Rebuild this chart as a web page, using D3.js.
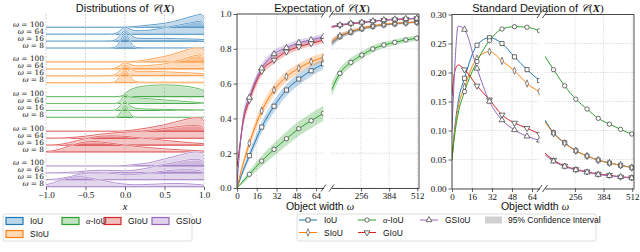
<!DOCTYPE html>
<html>
<head>
<meta charset="utf-8">
<script src="https://cdn.jsdelivr.net/npm/d3@7"></script>
<style>
  body { margin: 0; background: #fff; }
  svg { display: block; }
  text { fill: #111; }
</style>
</head>
<body>
<svg id="fig" width="640" height="252"></svg>
<script>
// ---------- data ----------
const methods = ["IoU", "SIoU", "α-IoU", "GIoU", "GSIoU"];
const colors = ["#1f77b4", "#ff7f0e", "#2ca02c", "#d62728", "#9467bd"];
const ridgeLabels = ["100", "64", "16", "8"];
const distTicks = [-1, -0.5, 0, 0.5, 1];

// sample positions of the densities
const densX = [-1, -0.9, -0.8, -0.7, -0.6, -0.5, -0.4, -0.3, -0.2, -0.15, -0.1, -0.05, 0,
  0.05, 0.1, 0.15, 0.2, 0.3, 0.4, 0.5, 0.6, 0.7, 0.8, 0.9, 0.95, 1];

// densities (arbitrary units) for omega = 100, 64, 16, 8
const densIoU = [
  [0,0,0,0,0,0,0,0,0,0,0,0,0.1,0.3,0.6,1,1.4,2.2,3,4,5.5,7.5,10,12,13,10],
  [0,0,0,0,0,0,0,0,0,0.3,1.5,4.5,7,5.5,4,3.5,3.5,4,5,6.5,8,9.5,11,12.5,13,10],
  [0,0,0,0,0,0,0,0,0.1,0.5,2.5,7,10.5,8,4.5,3,2.7,2.7,2.8,2.8,2.6,2.4,2.2,2,1.8,1.5],
  [0,0,0,0,0,0,0,0,0,0.3,2.5,9,14,9,2.5,0.6,0.3,0.2,0.2,0.2,0.2,0.2,0.2,0.2,0.2,0.2]
];
const densSIoU = [
  [0,0,0,0,0,0,0,0,0,0,0,0,0.1,0.2,0.5,0.8,1.2,2.5,4,5.5,7.5,10,12.5,14,14,11],
  [0,0,0,0,0,0,0,0,0,0.3,1.5,4,6,5,3.5,3,3,3.5,4,5,7,9,11.5,13.5,14,11],
  [0,0,0,0,0,0,0,0,0.1,0.5,2.5,7,10.5,8.5,5.5,4.5,4.5,4.5,4.3,4,3.7,3.3,3,2.6,2.3,2],
  [0,0,0,0,0,0,0,0,0.1,0.4,2.5,8.5,12,8.5,3,1,0.6,0.5,0.5,0.5,0.5,0.5,0.5,0.5,0.5,0.5]
];
const densAlpha = [
  [0,0,0,0,0,0,0,0,0,0,0.1,0.5,3,6,8,9.3,10,11,11.5,11.7,11.5,11,10,8.5,7.5,6],
  [0,0,0,0,0,0,0,0,0,0,0.5,4,9,7,6,5.7,5.4,4.8,4.2,3.6,3,2.4,1.8,1.2,0.9,0.6],
  [0,0,0,0,0,0,0,0,0,0.2,1.5,6,9,6,3,2,1.6,1.4,1.2,1,0.9,0.8,0.7,0.6,0.6,0.5],
  [0,0,0,0,0,0,0,0,0,0,0.6,6,12.5,6,0.6,0.1,0,0,0,0,0,0,0,0,0,0]
];
const densGIoU = [
  [0,0,0,0,0,0,0,0,0,0,0,0.2,0.5,0.8,1.2,1.7,2.3,3.5,5,6.5,8.5,10.5,12.5,13.5,13.5,10],
  [0,0,0.2,0.6,1.2,2,3,4,4.8,5.2,5.5,5.8,6,6.2,6.4,6.6,7,7.8,8.7,9.7,10.8,11.8,12.5,12.5,12,9],
  [0,0.2,1,2.5,4.5,6.5,8,9,9.3,9.3,9.2,9,8.8,8.4,8,7.6,7.2,6.4,5.6,4.8,4,3.3,2.6,2,1.7,1.4],
  [0.5,1.5,3.5,6,8.5,10,10.5,10,9,8.5,8,7.5,7,6.5,6,5.6,5.2,4.5,3.8,3.2,2.7,2.2,1.8,1.4,1.2,1]
];
const densGSIoU = [
  [0,0,0,0,0,0,0,0,0,0,0,0.2,0.5,0.8,1.2,1.6,2,3,5,7,9,11,13,14,13.5,10],
  [0,0,0.2,0.5,1,1.8,2.3,2.5,2.4,2.3,2.2,2.1,2,2.2,2.5,3,3.5,5,7,8.5,10,11.5,13,13.5,13,10],
  [0.2,0.5,1.5,3,5,6.5,7,7,6.5,6.2,5.8,5.4,5,5,5.2,5.5,5.8,6.7,7.8,8.8,9.5,10,10,9.5,9,7],
  [2,4,7,9,10,9.5,8,6.5,5,4.2,3.5,3,2.5,2.2,2,2,2,2.3,2.6,3,3.2,3.2,2.8,2.3,2,1.5]
];
const densities = [densIoU, densSIoU, densAlpha, densGIoU, densGSIoU];

// object widths
const omegaLeft = [0, 2, 5, 10, 20, 30, 40, 50, 60, 70];
const omegaRight = [122, 160, 210, 260, 310, 360, 410, 460, 510, 520];
const markerLeft = [10, 20, 30, 40, 50, 60, 70];
const markerRight = [160, 210, 260, 310, 360, 410, 460, 510];
const ticksLeft = [0, 16, 32, 48, 64];
const ticksRight = [256, 384, 512];

// expectation of C(X)
const expLeft = [
  [0, 0.04, 0.1, 0.186, 0.35, 0.47, 0.563, 0.626, 0.674, 0.713],
  [0, 0.06, 0.14, 0.257, 0.443, 0.563, 0.64, 0.688, 0.726, 0.75],
  [0, 0.015, 0.04, 0.079, 0.155, 0.222, 0.283, 0.341, 0.387, 0.429],
  [0.12, 0.23, 0.38, 0.505, 0.672, 0.736, 0.783, 0.812, 0.831, 0.85],
  [0.02, 0.2, 0.4, 0.52, 0.688, 0.77, 0.806, 0.835, 0.851, 0.87]
];
const expRight = [
  [0.83, 0.87, 0.895, 0.915, 0.929, 0.938, 0.944, 0.949, 0.953, 0.954],
  [0.84, 0.874, 0.898, 0.918, 0.931, 0.94, 0.946, 0.95, 0.954, 0.955],
  [0.563, 0.659, 0.722, 0.764, 0.799, 0.822, 0.837, 0.851, 0.861, 0.863],
  [0.925, 0.935, 0.944, 0.951, 0.958, 0.964, 0.968, 0.971, 0.974, 0.975],
  [0.927, 0.937, 0.946, 0.952, 0.96, 0.966, 0.97, 0.973, 0.975, 0.976]
];
// half width of the 95% confidence interval
const ciLeft = [
  [0, 0.008, 0.016, 0.025, 0.032, 0.035, 0.035, 0.034, 0.032, 0.031],
  [0, 0.01, 0.02, 0.028, 0.032, 0.032, 0.03, 0.028, 0.027, 0.026],
  [0, 0.005, 0.012, 0.02, 0.03, 0.036, 0.04, 0.042, 0.043, 0.043],
  [0, 0.02, 0.03, 0.03, 0.025, 0.022, 0.02, 0.018, 0.017, 0.016],
  [0, 0.02, 0.03, 0.03, 0.025, 0.022, 0.02, 0.018, 0.017, 0.016]
];
const ciRight = [
  [0.02, 0.016, 0.012, 0.01, 0.008, 0.007, 0.006, 0.006, 0.005, 0.005],
  [0.02, 0.016, 0.012, 0.01, 0.008, 0.007, 0.006, 0.006, 0.005, 0.005],
  [0.04, 0.03, 0.025, 0.022, 0.02, 0.018, 0.017, 0.016, 0.015, 0.015],
  [0.008, 0.006, 0.005, 0.004, 0.004, 0.003, 0.003, 0.003, 0.003, 0.003],
  [0.008, 0.006, 0.005, 0.004, 0.004, 0.003, 0.003, 0.003, 0.003, 0.003]
];

// standard deviation of C(X)
const stdLeft = [
  [0.05, 0.1, 0.15, 0.19, 0.247, 0.26, 0.25, 0.227, 0.205, 0.186],
  [0.05, 0.095, 0.14, 0.175, 0.224, 0.236, 0.22, 0.203, 0.181, 0.167],
  [0.05, 0.09, 0.13, 0.167, 0.219, 0.255, 0.275, 0.279, 0.278, 0.272],
  [0.16, 0.2, 0.213, 0.205, 0.177, 0.153, 0.127, 0.113, 0.104, 0.094],
  [0.1, 0.2, 0.28, 0.274, 0.207, 0.15, 0.118, 0.101, 0.09, 0.083]
];
const stdRight = [
  [0.118, 0.096, 0.079, 0.065, 0.056, 0.049, 0.044, 0.04, 0.036, 0.035],
  [0.115, 0.095, 0.078, 0.065, 0.056, 0.049, 0.044, 0.04, 0.036, 0.035],
  [0.228, 0.205, 0.177, 0.154, 0.137, 0.121, 0.111, 0.102, 0.094, 0.093],
  [0.061, 0.049, 0.039, 0.033, 0.029, 0.025, 0.023, 0.02, 0.019, 0.018],
  [0.058, 0.047, 0.038, 0.032, 0.028, 0.024, 0.022, 0.02, 0.018, 0.018]
];

// ---------- drawing ----------
const svg = d3.select("#fig");
const serif = "'Liberation Serif', 'DejaVu Serif', serif";
const sans = "'Liberation Sans', 'DejaVu Sans', sans-serif";
const gridCol = "#b8b8b8";

function title(x, label) {
  const t = svg.append("text").attr("x", x).attr("y", 11.5)
    .attr("text-anchor", "middle").attr("font-family", sans).attr("font-size", 11);
  t.append("tspan").text(label + " of ");
  t.append("tspan").attr("font-family", "'DejaVu Serif', serif").attr("font-style", "italic").text("𝒞");
  t.append("tspan").attr("font-family", serif).text("(");
  t.append("tspan").attr("font-family", serif).attr("font-style", "italic").attr("font-weight", "bold").text("X");
  t.append("tspan").attr("font-family", serif).text(")");
}

function styleAxis(g, size) {
  g.selectAll("text").attr("font-family", serif).attr("font-size", size || 9).attr("fill", "#111");
  g.selectAll("line").attr("stroke", "#222").attr("stroke-width", 0.7);
  g.selectAll("path.domain").attr("stroke", "#222").attr("stroke-width", 0.8);
}

// ----- panel 1: distributions -----
const xDist = d3.scaleLinear().domain([-1, 1]).range([46, 204]);
const ridgeY = d3.scaleLinear().domain([0, 23]).range([27.3, 186.7]);
const densH = d3.scaleLinear().domain([0, 14]).range([0, 14]);

title(125, "Distributions");

svg.append("g").selectAll("line").data(distTicks).join("line")
  .attr("x1", d => xDist(d)).attr("x2", d => xDist(d))
  .attr("y1", 14).attr("y2", 187)
  .attr("stroke", gridCol).attr("stroke-width", 0.6).attr("stroke-dasharray", "2,1.5");

densities.forEach((group, g) => {
  group.forEach((vals, k) => {
    const base = ridgeY(g * 5 + k);
    const pts = densX.map((x, i) => [x, vals[i]]);
    const area = d3.area().x(d => xDist(d[0])).y0(base).y1(d => base - densH(d[1])).curve(d3.curveMonotoneX);
    const line = d3.line().x(d => xDist(d[0])).y(d => base - densH(d[1])).curve(d3.curveMonotoneX);
    svg.append("line").attr("x1", xDist(-1)).attr("x2", xDist(1)).attr("y1", base).attr("y2", base)
      .attr("stroke", colors[g]).attr("stroke-width", 1.1).attr("stroke-opacity", 0.85);
    svg.append("path").attr("d", area(pts)).attr("fill", colors[g]).attr("fill-opacity", 0.27);
    svg.append("path").attr("d", line(pts)).attr("fill", "none").attr("stroke", "#fff").attr("stroke-width", 1.6);
    svg.append("path").attr("d", line(pts)).attr("fill", "none").attr("stroke", colors[g])
      .attr("stroke-width", 0.8).attr("stroke-opacity", 0.9);
    const lab = svg.append("text").attr("x", 44).attr("y", base - 0.5)
      .attr("text-anchor", "end").attr("font-family", "'DejaVu Serif', serif").attr("font-size", 7.4);
    lab.append("tspan").attr("font-style", "italic").text("ω");
    lab.append("tspan").text(" = " + ridgeLabels[k]);
  });
});

const axDist = svg.append("g").attr("transform", "translate(0,187)")
  .call(d3.axisBottom(xDist).tickValues(distTicks).tickFormat(d3.format(".1f"))
    .tickSize(3).tickPadding(1.5).tickSizeOuter(0));
axDist.select("path.domain").remove();
styleAxis(axDist);
svg.append("text").attr("x", 125).attr("y", 210).attr("text-anchor", "middle")
  .attr("font-family", serif).attr("font-style", "italic").attr("font-size", 10.5).text("x");

// ----- broken-axis panels -----
const markerTypes = [
  d3.symbol().type(d3.symbolSquare).size(17),
  d3.symbol().type(d3.symbolDiamond).size(16),
  d3.symbol().type(d3.symbolCircle).size(15),
  d3.symbol().type(d3.symbolTriangle).size(15),
  d3.symbol().type(d3.symbolTriangle).size(15)
];
const markerRot = [0, 0, 0, 180, 0];
const markerSx = [1, 0.7, 1, 1, 1];

let clipId = 0;
function brokenPanel(opts) {
  const { xl, xr, y, yTicks, yFmt, left, right, ci, ciR } = opts;
  const top = y.range()[1], bottom = y.range()[0];
  const subs = [
    { x: xl, omega: omegaLeft, data: left, ci: ci, marks: markerLeft, ticks: ticksLeft },
    { x: xr, omega: omegaRight, data: right, ci: ciR, marks: markerRight, ticks: ticksRight }
  ];
  subs.forEach((s, si) => {
    const [x0, x1] = s.x.range();
    const id = "clip" + (clipId++);
    svg.append("clipPath").attr("id", id).append("rect")
      .attr("x", x0).attr("y", top).attr("width", x1 - x0).attr("height", bottom - top);
    // grid
    const grid = svg.append("g");
    grid.selectAll("line.h").data(yTicks).join("line").attr("class", "h")
      .attr("x1", x0).attr("x2", x1).attr("y1", d => y(d)).attr("y2", d => y(d));
    grid.selectAll("line.v").data(s.ticks).join("line").attr("class", "v")
      .attr("x1", d => s.x(d)).attr("x2", d => s.x(d)).attr("y1", top).attr("y2", bottom);
    grid.selectAll("line").attr("stroke", gridCol).attr("stroke-width", 0.6).attr("stroke-dasharray", "1,1.3");

    const body = svg.append("g").attr("clip-path", `url(#${id})`);
    // confidence bands
    if (s.ci) {
      s.data.forEach((vals, m) => {
        const band = d3.area().x((d, i) => s.x(s.omega[i]))
          .y0((d, i) => y(d - s.ci[m][i])).y1((d, i) => y(d + s.ci[m][i])).curve(d3.curveMonotoneX);
        body.append("path").attr("d", band(vals)).attr("fill", colors[m]).attr("fill-opacity", 0.28);
      });
    }
    s.data.forEach((vals, m) => {
      const line = d3.line().x((d, i) => s.x(s.omega[i])).y(d => y(d)).curve(d3.curveMonotoneX);
      body.append("path").attr("d", line(vals)).attr("fill", "none")
        .attr("stroke", colors[m]).attr("stroke-width", 1);
    });
    s.data.forEach((vals, m) => {
      const pts = s.omega.map((w, i) => [w, vals[i]]).filter(p => s.marks.includes(p[0]));
      body.selectAll(null).data(pts).join("path")
        .attr("d", markerTypes[m])
        .attr("transform", d => `translate(${s.x(d[0])},${y(d[1])}) rotate(${markerRot[m]}) scale(${markerSx[m]},1)`)
        .attr("fill", "#fff").attr("stroke", "#333").attr("stroke-width", 0.7);
    });
    // spines
    const sp = svg.append("g").attr("stroke", "#222").attr("stroke-width", 0.8);
    sp.append("line").attr("x1", x0).attr("x2", x1).attr("y1", top).attr("y2", top);
    sp.append("line").attr("x1", si === 0 ? x0 : x1).attr("x2", si === 0 ? x0 : x1).attr("y1", top).attr("y2", bottom);
    const ax = svg.append("g").attr("transform", `translate(0,${bottom})`)
      .call(d3.axisBottom(s.x).tickValues(s.ticks).tickSize(3.5).tickPadding(1.5).tickSizeOuter(0));
    styleAxis(ax);
    // break marks
    const bx = si === 0 ? x1 : x0;
    [top, bottom].forEach(by => {
      sp.append("line").attr("x1", bx - 2.5).attr("x2", bx + 2.5).attr("y1", by + 3.5).attr("y2", by - 3.5);
    });
  });
  const ay = svg.append("g").attr("transform", `translate(${xl.range()[0]},0)`)
    .call(d3.axisLeft(y).tickValues(yTicks).tickFormat(d3.format(yFmt)).tickSize(3.5).tickPadding(2).tickSizeOuter(0));
  ay.select("path.domain").remove();
  styleAxis(ay);
  const cx = (xl.range()[0] + xr.range()[1]) / 2 - 8;
  const lab = svg.append("text").attr("x", cx).attr("y", 210).attr("text-anchor", "middle")
    .attr("font-family", sans).attr("font-size", 10.5);
  lab.append("tspan").text("Object width ");
  lab.append("tspan").attr("font-family", serif).attr("font-style", "italic").text("ω");
}

// panel 2: expectation
const yExp = d3.scaleLinear().domain([0, 1]).range([188, 14]);
title(322, "Expectation");
brokenPanel({
  xl: d3.scaleLinear().domain([0, 70]).range([237, 323.5]),
  xr: d3.scaleLinear().domain([122, 520]).range([331.5, 419]),
  y: yExp, yTicks: [0, 0.2, 0.4, 0.6, 0.8, 1.0], yFmt: ".1f",
  left: expLeft, right: expRight, ci: ciLeft, ciR: ciRight
});

// panel 3: standard deviation
const yStd = d3.scaleLinear().domain([0, 0.3]).range([188.5, 14.5]);
title(538, "Standard Deviation");
brokenPanel({
  xl: d3.scaleLinear().domain([0, 70]).range([452, 539.5]),
  xr: d3.scaleLinear().domain([122, 520]).range([545, 634]),
  y: yStd, yTicks: [0, 0.05, 0.1, 0.15, 0.2, 0.25, 0.3], yFmt: ".2f",
  left: stdLeft, right: stdRight, ci: null, ciR: null
});

// ----- legends -----
function legendBox(x, y, w, h) {
  svg.append("rect").attr("x", x).attr("y", y).attr("width", w).attr("height", h).attr("rx", 2)
    .attr("fill", "#fff").attr("fill-opacity", 0.9).attr("stroke", "#d6d6d6").attr("stroke-width", 0.8);
}
function legendText(x, y, label) {
  const t = svg.append("text").attr("x", x).attr("y", y + 3.2)
    .attr("font-family", sans).attr("font-size", 8.5);
  if (label.startsWith("α")) {
    t.append("tspan").attr("font-family", serif).attr("font-style", "italic").text("α");
    t.append("tspan").text(label.slice(1));
  } else t.text(label);
}

// left: distribution patches
legendBox(3, 214, 189, 27);
const patchPos = [[5, 221], [5, 234], [61, 221], [103, 221], [151, 221]];
methods.forEach((m, i) => {
  const [px, py] = patchPos[i];
  svg.append("rect").attr("x", px + 1).attr("y", py - 3.5).attr("width", 17).attr("height", 7)
    .attr("fill", colors[i]).attr("fill-opacity", 0.3).attr("stroke", colors[i]).attr("stroke-width", 1.2);
  legendText(px + 25, py, m);
});

// right: line + marker handles
legendBox(297, 214, 299, 27);
const handlePos = [[299, 220], [299, 232.5], [358, 220], [358, 232.5], [420, 220]];
methods.forEach((m, i) => {
  const [hx, hy] = handlePos[i];
  svg.append("line").attr("x1", hx).attr("x2", hx + 18).attr("y1", hy).attr("y2", hy)
    .attr("stroke", colors[i]).attr("stroke-width", 1);
  svg.append("path").attr("d", markerTypes[i])
    .attr("transform", `translate(${hx + 9},${hy}) rotate(${markerRot[i]}) scale(${markerSx[i]},1)`)
    .attr("fill", "#fff").attr("stroke", "#333").attr("stroke-width", 0.7);
  legendText(hx + 25, hy, m);
});
svg.append("rect").attr("x", 485).attr("y", 216.5).attr("width", 17).attr("height", 7)
  .attr("fill", "#bdbdbd").attr("fill-opacity", 0.7);
legendText(508, 220, "95% Confidence Interval");

// caption, cut off by the bottom edge
svg.append("text").attr("x", 3).attr("y", 260.5).attr("font-family", serif).attr("font-size", 10)
  .attr("fill", "#777")
  .text("Figure 4: Analysis of the distribution of 𝒞(X) for IoU, SIoU, α-IoU, GIoU and GSIoU with respect to the object width ω. The expectation and the standard deviation are");
</script>
</body>
</html>
